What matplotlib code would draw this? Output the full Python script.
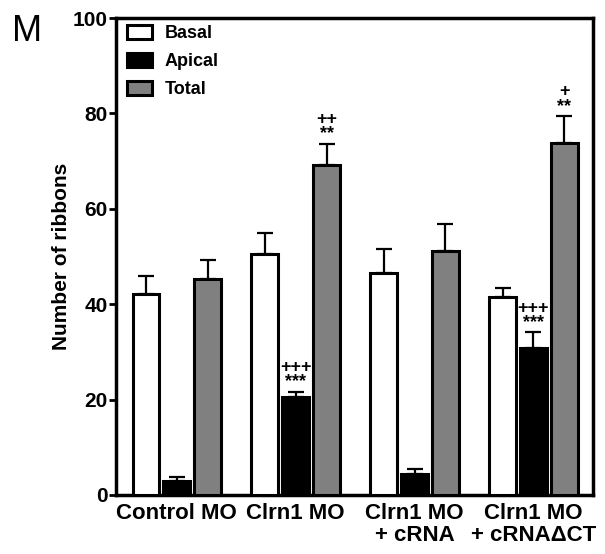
import numpy as np
import matplotlib.pyplot as plt

plt.rcParams['font.family'] = ['Liberation Sans', 'DejaVu Sans']

groups = ['Control MO', 'Clrn1 MO', 'Clrn1 MO\n+ cRNA', 'Clrn1 MO\n+ cRNA\u0394CT']
basal = [42.2, 50.5, 46.6, 41.6]
basal_err = [3.7, 4.5, 5.0, 1.9]
apical = [3.0, 20.6, 4.5, 30.8]
apical_err = [0.8, 1.0, 0.9, 3.3]
total = [45.3, 69.2, 51.1, 73.9]
total_err = [4.0, 4.4, 5.7, 5.5]
apical_marks = ['', '+++\n***', '', '+++\n***']
total_marks = ['', '++\n**', '', '+\n**']

x = np.arange(len(groups))
step = 0.26
w = 0.225

fig = plt.figure(figsize=(6.05, 5.54), dpi=100)
ax = fig.add_axes([0.192, 0.1065, 0.788, 0.861])

series = [
    (basal, basal_err, 'white', 'Basal', -step),
    (apical, apical_err, 'black', 'Apical', 0),
    (total, total_err, '#808080', 'Total', step),
]
for vals, errs, color, label, off in series:
    ax.bar(x + off, vals, w, color=color, edgecolor='black', linewidth=2.2, label=label, zorder=3)
    ax.errorbar(x + off, vals, yerr=[np.zeros(len(vals)), errs], fmt='none',
                ecolor='black', elinewidth=1.6, capsize=6, capthick=1.6, zorder=2)

for i, m in enumerate(apical_marks):
    if m:
        ax.annotate(m, (x[i], apical[i] + apical_err[i]), xytext=(0, 1), textcoords='offset points',
                    ha='center', va='bottom', fontsize=13, fontweight='bold', linespacing=0.8)
for i, m in enumerate(total_marks):
    if m:
        ax.annotate(m, (x[i] + step, total[i] + total_err[i]), xytext=(0, 1), textcoords='offset points',
                    ha='center', va='bottom', fontsize=13, fontweight='bold', linespacing=0.8)

ax.set_xlim(-0.51, 3.5)
ax.set_ylim(0, 100)
ax.set_yticks([0, 20, 40, 60, 80, 100])
ax.set_xticks(x)
ax.set_xticklabels(groups, fontsize=16, fontweight='bold', linespacing=1.05)
ax.tick_params(axis='x', length=0, pad=6)
ax.tick_params(axis='y', labelsize=15, width=2, length=5, pad=1)
for lab in ax.get_yticklabels():
    lab.set_fontweight('bold')
for s in ax.spines.values():
    s.set_linewidth(2.5)
ax.set_ylabel('Number of ribbons', fontsize=15, fontweight='bold', labelpad=1)

leg = ax.legend(loc='upper left', frameon=False, prop={'weight': 'bold', 'size': 13},
                handlelength=1.4, handleheight=0.8, borderaxespad=0.0, labelspacing=0.6,
                handletextpad=0.7, bbox_to_anchor=(0.007, 1.0))

fig.text(0.02, 0.975, 'M', fontsize=26, va='top')

fig.savefig('out.png', dpi=100)
